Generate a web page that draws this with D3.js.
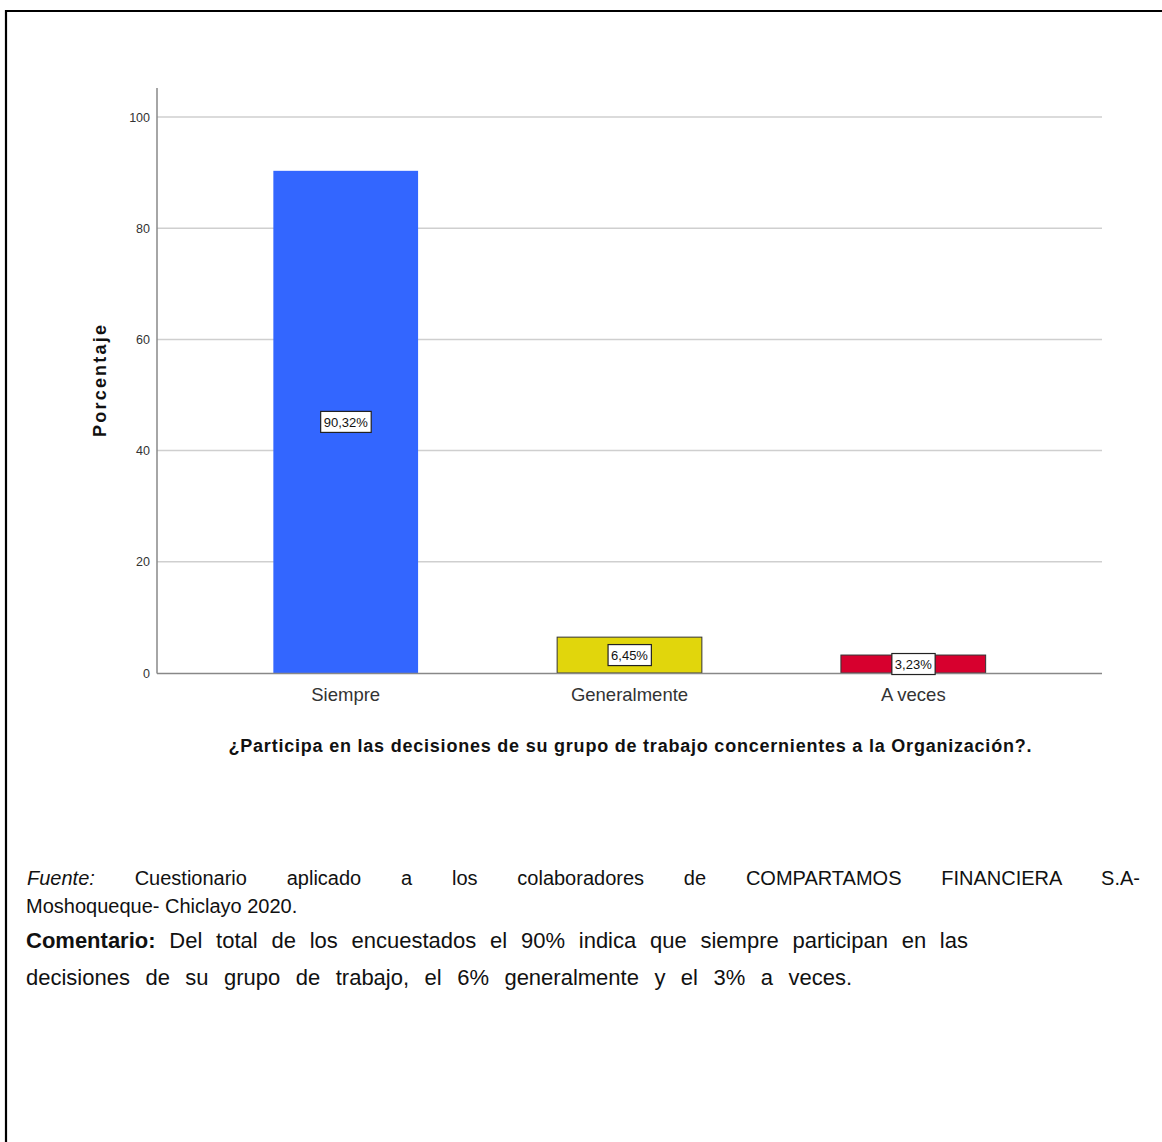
<!DOCTYPE html>
<html>
<head>
<meta charset="utf-8">
<script src="https://cdn.jsdelivr.net/npm/d3@7/dist/d3.min.js"></script>
<style>
  body { margin: 0; background: #fff; }
  svg { display: block; }
</style>
</head>
<body>
<script>
// Survey answers and their share of respondents (%)
const categories = ["Siempre", "Generalmente", "A veces"];
const percentages = [90.32, 6.45, 3.23];
const valueLabels = ["90,32%", "6,45%", "3,23%"];
const barColors = ["#3366ff", "#e1d60c", "#d7002e"];
const yTicks = [0, 20, 40, 60, 80, 100];

const W = 1162, H = 1142;
const FONT = "Liberation Sans, Arial, sans-serif";
const svg = d3.select("body").append("svg").attr("width", W).attr("height", H);

// Page frame (left and top rules)
svg.append("line").attr("x1", 6).attr("x2", 6).attr("y1", 10).attr("y2", H).attr("stroke", "#000").attr("stroke-width", 2.2);
svg.append("line").attr("x1", 5).attr("x2", W).attr("y1", 11).attr("y2", 11).attr("stroke", "#000").attr("stroke-width", 2.2);

const x = d3.scaleBand().domain(categories).range([157, 1102]).paddingInner(0.49).paddingOuter(0.41);
const y = d3.scaleLinear().domain([0, 100]).range([673, 117]);

// Gridlines
svg.append("g").selectAll("line").data(yTicks.filter(d => d > 0)).join("line")
  .attr("x1", 157).attr("x2", 1102)
  .attr("y1", d => y(d)).attr("y2", d => y(d))
  .attr("stroke", "#cfcfcf").attr("stroke-width", 1.5);

// Y axis
const yAxis = svg.append("g").attr("transform", "translate(157,0)")
  .call(d3.axisLeft(y).tickValues(yTicks).tickSize(0).tickPadding(7));
yAxis.select(".domain").remove();
yAxis.selectAll("text").attr("font-family", FONT).attr("font-size", 12.5).attr("fill", "#333");
svg.append("line").attr("x1", 157).attr("x2", 157).attr("y1", 88).attr("y2", 673.5).attr("stroke", "#888").attr("stroke-width", 1.5);

// Bars
svg.append("g").selectAll("rect").data(categories).join("rect")
  .attr("x", d => x(d)).attr("width", x.bandwidth())
  .attr("y", (d, i) => y(percentages[i]))
  .attr("height", (d, i) => y(0) - y(percentages[i]))
  .attr("fill", (d, i) => barColors[i])
  .attr("stroke", (d, i) => i === 0 ? "none" : "#333")
  .attr("stroke-width", 1);

// X axis baseline and category labels
svg.append("line").attr("x1", 157).attr("x2", 1102).attr("y1", 673.5).attr("y2", 673.5).attr("stroke", "#888").attr("stroke-width", 1.5);
svg.append("g").selectAll("text").data(categories).join("text")
  .attr("x", d => x(d) + x.bandwidth() / 2).attr("y", 701)
  .attr("text-anchor", "middle")
  .attr("font-family", FONT).attr("font-size", 18.5).attr("fill", "#333")
  .text(d => d);

// Value labels in boxes at the middle of each bar
const labels = svg.append("g").selectAll("g").data(categories).join("g")
  .attr("transform", (d, i) => `translate(${x(d) + x.bandwidth() / 2},${(y(percentages[i]) + y(0)) / 2})`);
labels.append("text")
  .attr("text-anchor", "middle").attr("dy", "0.36em")
  .attr("font-family", FONT).attr("font-size", 13).attr("fill", "#111")
  .text((d, i) => valueLabels[i]);
labels.each(function () {
  const g = d3.select(this);
  const bb = g.select("text").node().getBBox();
  g.insert("rect", "text")
    .attr("x", bb.x - 3).attr("y", -10.5).attr("width", bb.width + 6).attr("height", 21)
    .attr("fill", "#fff").attr("stroke", "#222").attr("stroke-width", 1.2);
});

// Axis titles
svg.append("text").attr("transform", "translate(106,381) rotate(-90)")
  .attr("text-anchor", "middle")
  .attr("font-family", FONT).attr("font-size", 18).attr("font-weight", "bold").attr("fill", "#111")
  .attr("textLength", 112).attr("lengthAdjust", "spacing")
  .text("Porcentaje");
svg.append("text").attr("x", 630).attr("y", 752)
  .attr("text-anchor", "middle")
  .attr("font-family", FONT).attr("font-size", 18).attr("font-weight", "bold").attr("fill", "#111")
  .attr("textLength", 803).attr("lengthAdjust", "spacing")
  .text("¿Participa en las decisiones de su grupo de trabajo concernientes a la Organización?.");

// Stretch a text line to end at a given x by widening its word gaps
function fitWords(sel, x0, x1) {
  const natural = sel.node().getComputedTextLength();
  const spaces = sel.text().split(" ").length - 1;
  sel.attr("word-spacing", Math.max(0, (x1 - x0 - natural) / spaces));
}

// Source note
const note = svg.append("g").attr("font-family", FONT).attr("font-size", 20).attr("fill", "#111");
const src1 = note.append("text").attr("x", 27).attr("y", 885);
src1.append("tspan").attr("font-style", "italic").text("Fuente:");
src1.append("tspan").text(" Cuestionario aplicado a los colaboradores de COMPARTAMOS FINANCIERA S.A-");
fitWords(src1, 27, 1140);
note.append("text").attr("x", 26).attr("y", 913).text("Moshoqueque- Chiclayo 2020.");

// Commentary
const c1 = note.append("text").attr("x", 26).attr("y", 948).attr("font-size", 22);
c1.append("tspan").attr("font-weight", "bold").text("Comentario:");
c1.append("tspan").text(" Del total de los encuestados el 90% indica que siempre participan en las");
fitWords(c1, 26, 968);
const c2 = note.append("text").attr("x", 26).attr("y", 985).attr("font-size", 22)
  .text("decisiones de su grupo de trabajo, el 6% generalmente y el 3% a veces.");
fitWords(c2, 26, 852);
</script>
</body>
</html>
